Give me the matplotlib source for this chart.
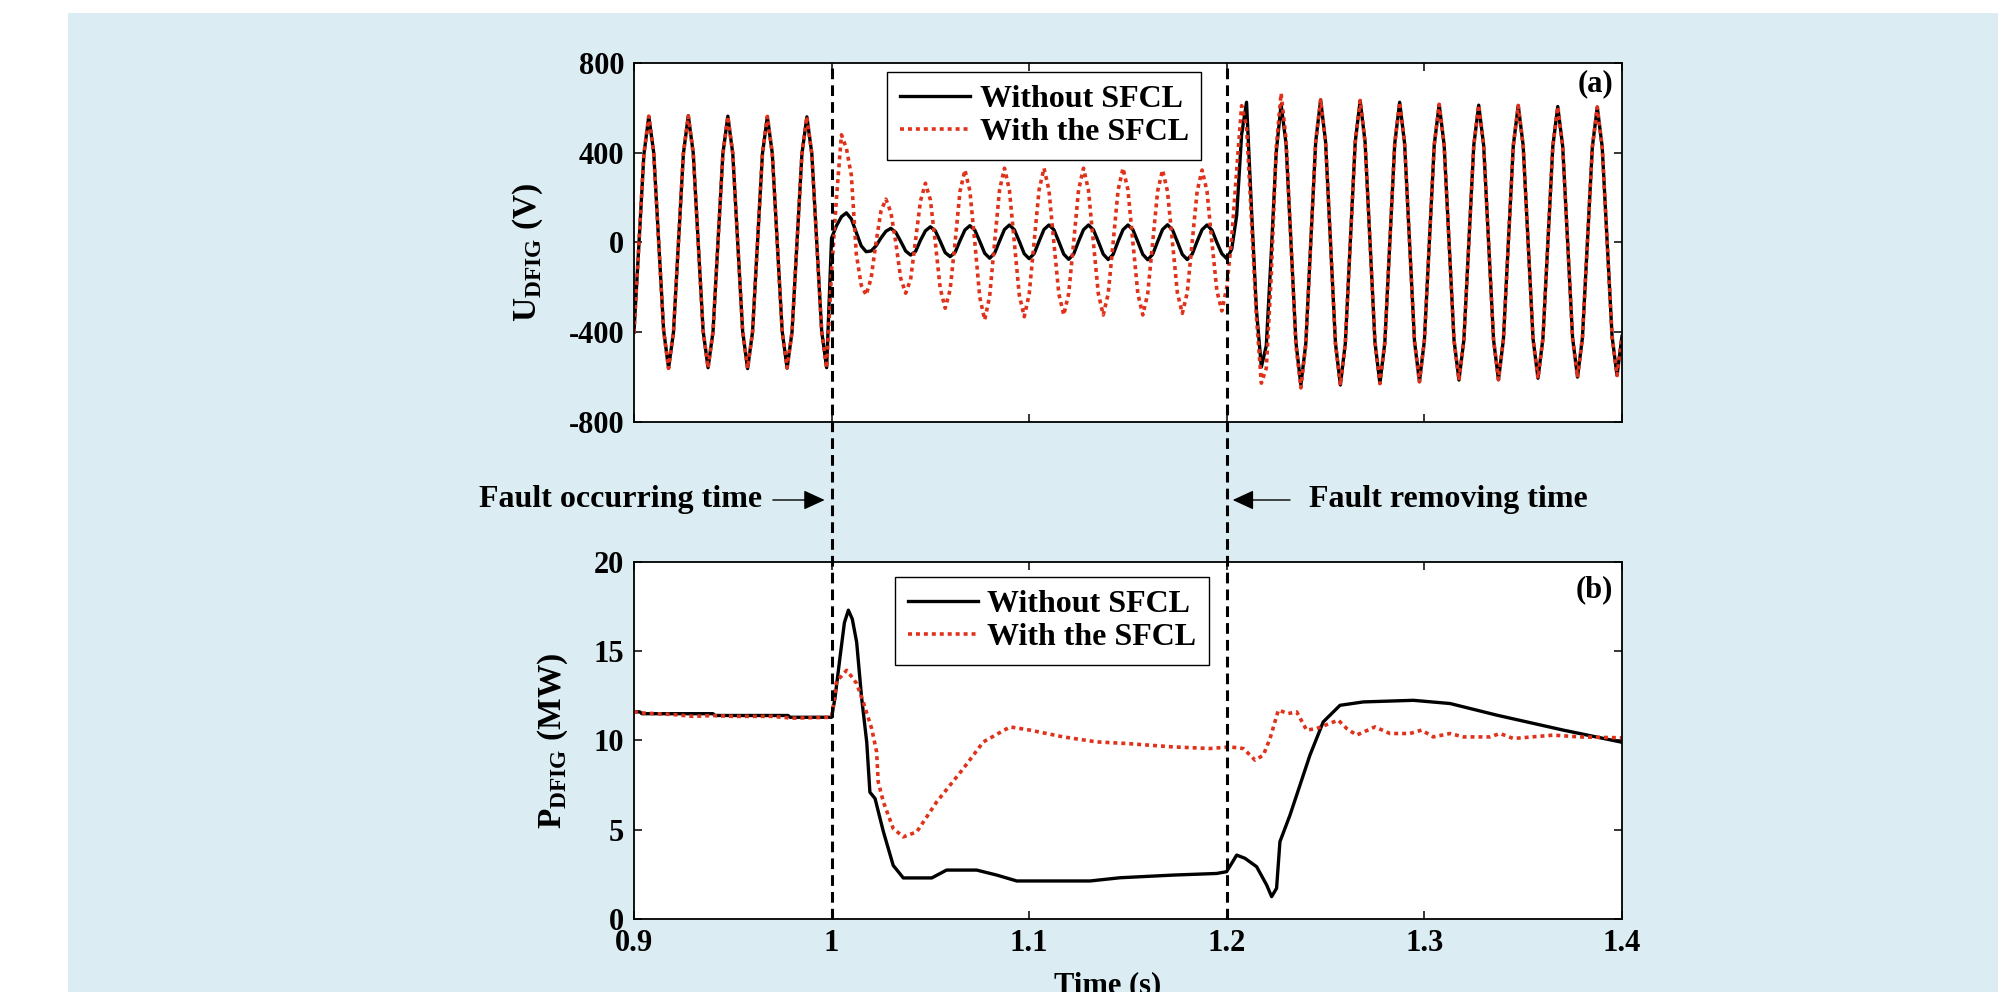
import numpy as np
import matplotlib
matplotlib.use('Agg')
import matplotlib.pyplot as plt
import matplotlib.transforms as mtransforms
from matplotlib.lines import Line2D
from matplotlib.patches import Rectangle

plt.rcParams['font.family'] = ['Liberation Serif', 'DejaVu Serif']
plt.rcParams['font.weight'] = 'bold'
plt.rcParams['axes.unicode_minus'] = False
plt.rcParams['mathtext.fontset'] = 'custom'
plt.rcParams['mathtext.rm'] = 'Liberation Serif:bold'
plt.rcParams['mathtext.bf'] = 'Liberation Serif:bold'

# (a) DFIG voltage, sampled every 2.5 ms from 0.9 s to 1.4 s
u_time = np.linspace(0.9, 1.4, 201)
u_without = [
    -400, -10, 390, 562, 400, 5, -390, -560,
    -400, -5, 395, 565, 398, 0, -395, -558,
    -398, 0, 396, 563, 396, 0, -396, -562,
    -400, -3, 394, 561, 397, 2, -395, -560,
    -398, 0, 395, 560, 396, 0, -396, -558,
    20, 75, 115, 132, 105, 45, -15, -41, -38, -15, 20, 50, 63, 45, 5, -38, -56,
    -40, 10, 52, 70, 52, 5, -45,
    -63, -44, 8, 56, 75, 55, 5, -48,
    -70, -48, 6, 58, 78, 57, 5, -50,
    -72, -50, 5, 58, 78, 57, 4, -52,
    -75, -52, 5, 57, 78, 57, 4, -52,
    -76, -53, 5, 57, 78, 57, 3, -53,
    -77, -53, 4, 58, 79, 57, 3, -53,
    -76, -52, 5, 57, 78, 55, 0, -50,
    -72,
    -30, 120, 480, 625, 150, -300, -555, -460, -50, 400,
    615, 440, 0, -445, -635, -450, 0, 449,
    635, 449, 0, -449, -635, -449, 0, 447,
    632, 447, 0, -445, -628, -445, 0, 440,
    625, 440, 0, -440, -620, -438, 0, 435,
    615, 435, 0, -435, -613, -434, 0, 433,
    612, 433, 0, -433, -612, -432, 0, 432,
    610, 432, 0, -430, -605, -428, 0, 428,
    606, 428, 0, -425, -600, -424, 0, 425,
    603, 425, 0, -420, -592, -418,
]
u_with = [
    -402, -8, 392, 563, 398, 3, -392, -561,
    -398, -3, 396, 564, 397, 1, -394, -559,
    -399, 2, 395, 562, 397, 1, -395, -561,
    -401, -2, 395, 562, 396, 1, -396, -559,
    -397, 1, 396, 561, 395, -1, -397, -560,
    -130, 200, 480, 420, 300, -50, -190, -234, -160, 0, 140, 193, 135, 0, -160, -226, -165,
    10, 185, 264, 190, 0, -205, -293,
    -210, 0, 228, 323, 230, 0, -244, -345,
    -240, 0, 234, 331, 234, 0, -234, -331,
    -230, 0, 234, 331, 234, 0, -228, -323,
    -228, 0, 234, 331, 234, 0, -228, -323,
    -228, 0, 234, 331, 234, 0, -228, -323,
    -228, 0, 228, 323, 228, 0, -224, -316,
    -224, 0, 228, 323, 228, 0, -215, -305,
    -200,
    20, 320, 610, 520, 100, -330, -627, -560, -150, 420,
    665, 460, 0, -460, -648, -455, 0, 450,
    636, 450, 0, -450, -636, -448, 0, 446,
    633, 446, 0, -446, -629, -444, 0, 441,
    626, 441, 0, -441, -621, -437, 0, 436,
    616, 434, 0, -436, -614, -433, 0, 432,
    613, 434, 0, -432, -611, -433, 0, 431,
    611, 431, 0, -431, -606, -427, 0, 429,
    605, 427, 0, -426, -601, -423, 0, 424,
    604, 424, 0, -421, -593, -419,
]

# (b) DFIG active power
p_time_without = [0.900, 0.903, 0.904, 0.940, 0.941, 0.978, 0.979, 1.000, 1.0017, 1.0042,
                  1.0065, 1.0085, 1.0105, 1.0127, 1.0152, 1.0178, 1.0194, 1.022, 1.0262, 1.0312,
                  1.0363, 1.0507, 1.0582, 1.0734, 1.0836, 1.0937, 1.1308, 1.146, 1.1729, 1.1949,
                  1.1999, 1.2035, 1.205, 1.2092, 1.2151, 1.2202, 1.2227, 1.2252, 1.2269, 1.2320,
                  1.2421, 1.2488, 1.2573, 1.2691, 1.2944, 1.3130, 1.3366, 1.3703, 1.400]
p_without = [11.62, 11.60, 11.50, 11.50, 11.40, 11.40, 11.30, 11.30, 12.35, 14.6,
             16.6, 17.3, 16.8, 15.5, 12.4, 9.9, 7.1, 6.75, 4.9, 3.0,
             2.3, 2.3, 2.74, 2.74, 2.46, 2.13, 2.13, 2.31, 2.46, 2.55,
             2.65, 3.3, 3.58, 3.40, 2.93, 1.90, 1.25, 1.72, 4.33, 5.82,
             9.18, 11.04, 11.97, 12.16, 12.25, 12.07, 11.42, 10.58, 9.9]
p_time_with = [0.900, 0.903, 0.920, 0.930, 0.940, 0.950, 0.970, 0.980, 1.000, 1.0026,
               1.0050, 1.0076, 1.0100, 1.0127, 1.016, 1.0203, 1.0228, 1.0236, 1.0262, 1.0312,
               1.0363, 1.0431, 1.0532, 1.0667, 1.0768, 1.0903, 1.1004, 1.1173, 1.1342, 1.1493,
               1.1729, 1.1915, 1.2016, 1.2084, 1.2143, 1.2185, 1.2219, 1.2261, 1.2311, 1.2354,
               1.2404, 1.2455, 1.2564, 1.2607, 1.2657, 1.2750, 1.2826, 1.2927, 1.2986, 1.3045,
               1.3130, 1.3197, 1.3332, 1.3383, 1.3450, 1.3652, 1.3787, 1.400]
p_with = [11.62, 11.55, 11.45, 11.35, 11.40, 11.35, 11.35, 11.25, 11.30, 13.37,
          13.6, 13.93, 13.6, 13.19, 12.16, 10.67, 9.36, 7.68, 6.56, 5.07,
          4.60, 4.88, 6.56, 8.43, 9.92, 10.76, 10.58, 10.2, 9.92, 9.83,
          9.64, 9.55, 9.64, 9.55, 8.90, 9.18, 10.11, 11.70, 11.51, 11.60,
          10.58, 10.67, 11.14, 10.67, 10.30, 10.76, 10.39, 10.39, 10.58, 10.20,
          10.39, 10.20, 10.20, 10.39, 10.11, 10.30, 10.20, 10.15]

fault_times = [1.0, 1.2]
x_ticks = [0.9, 1.0, 1.1, 1.2, 1.3, 1.4]
x_tick_labels = ['0.9', '1', '1.1', '1.2', '1.3', '1.4']
u_ticks = [-800, -400, 0, 400, 800]
p_ticks = [0, 5, 10, 15, 20]
series_labels = ['Without SFCL', 'With the SFCL']

RED = '#E0321A'
BG = '#DBEDF3'
FS = 22

fig = plt.figure(figsize=(19.98, 9.92), dpi=100)
fig.patches.append(Rectangle((68 / 1998, 0), 1 - 68 / 1998, 1 - 13 / 992,
                             transform=fig.transFigure, facecolor=BG, edgecolor='none', zorder=-10))

ax1 = fig.add_axes([0.3173, 0.5746, 0.4945, 0.3619])
ax2 = fig.add_axes([0.3173, 0.0736, 0.4945, 0.3599])

ax1.plot(u_time, u_without, color='black', lw=2.4, label=series_labels[0])
ax1.plot(u_time, u_with, color=RED, lw=2.6, linestyle=(0, (1.1, 1.1)), label=series_labels[1])
ax1.set_ylim(-800, 800)
ax1.set_yticks(u_ticks)

ax2.plot(p_time_without, p_without, color='black', lw=2.4, label=series_labels[0])
ax2.plot(p_time_with, p_with, color=RED, lw=2.6, linestyle=(0, (1.1, 1.1)), label=series_labels[1])
ax2.set_ylim(0, 20)
ax2.set_yticks(p_ticks)

for ax in (ax1, ax2):
    ax.set_xlim(0.9, 1.4)
    ax.set_xticks(x_ticks)
    ax.set_xticklabels(x_tick_labels)
    ax.tick_params(direction='in', length=6, width=1.1, top=True, right=True,
                   labelsize=FS, pad=7)
    for sp in ax.spines.values():
        sp.set_linewidth(1.3)
ax1.tick_params(labelbottom=False)

leg_kw = dict(loc='upper left', frameon=True, fancybox=False, edgecolor='black',
              framealpha=1, borderaxespad=0, handlelength=2.2, handletextpad=0.3,
              labelspacing=0.12, borderpad=0.4, prop={'size': 23, 'weight': 'bold'})
leg1 = ax1.legend(bbox_to_anchor=(0.256, 0.975), **leg_kw)
leg2 = ax2.legend(bbox_to_anchor=(0.264, 0.958), **leg_kw)
for leg in (leg1, leg2):
    leg.get_frame().set_linewidth(1.0)

ax1.text(0.991, 0.983, '(a)', transform=ax1.transAxes, ha='right', va='top', fontsize=FS)
ax2.text(0.991, 0.964, '(b)', transform=ax2.transAxes, ha='right', va='top', fontsize=FS)

# fault markers spanning both panels
tr = mtransforms.blended_transform_factory(ax2.transData, fig.transFigure)
y_top = 1 - 63 / 992
y_bot = 1 - 919 / 992
for ft in fault_times:
    fig.add_artist(Line2D([ft, ft], [y_bot, y_top], transform=tr, color='black',
                          lw=2.2, linestyle=(0, (3.5, 2.0))))

y_arrow = 1 - 500 / 992
arrow_kw = dict(arrowstyle='-|>,head_length=0.65,head_width=0.3', color='black',
                lw=1.0, mutation_scale=20, shrinkA=0, shrinkB=0)
ax2.annotate('', xy=(0.9965, y_arrow), xytext=(0.9703, y_arrow),
             xycoords=tr, textcoords=tr, arrowprops=arrow_kw)
ax2.annotate('', xy=(1.2030, y_arrow), xytext=(1.2320, y_arrow),
             xycoords=tr, textcoords=tr, arrowprops=arrow_kw)
fig.text(0.9648, y_arrow, 'Fault occurring time', transform=tr, ha='right', va='center',
         fontsize=23)
fig.text(1.2415, y_arrow, 'Fault removing time', transform=tr, ha='left', va='center',
         fontsize=23)

fig.text(528 / 1998, 1 - 252 / 992, r'U$_{\mathbf{DFIG}}$ (V)', rotation=90,
         ha='center', va='center', fontsize=24)
fig.text(553 / 1998, 1 - 741 / 992, r'P$_{\mathbf{DFIG}}$ (MW)', rotation=90,
         ha='center', va='center', fontsize=24)
fig.text(1108 / 1998, 1 - 993 / 992, 'Time (s)', ha='center', va='baseline', fontsize=FS)

fig.savefig('out.png', dpi=100)
